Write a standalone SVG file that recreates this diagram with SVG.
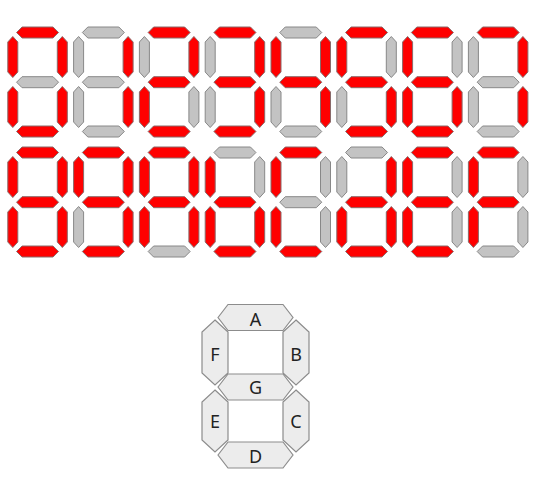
<svg xmlns="http://www.w3.org/2000/svg" xmlns:xlink="http://www.w3.org/1999/xlink" width="550" height="487" viewBox="0 0 550 487">
<style>
.on{fill:#ff0000;stroke:#8a6a6a;stroke-width:1}
.off{fill:#c3c3c3;stroke:#888888;stroke-width:1}
.big{fill:#ececec;stroke:#8c8c8c;stroke-width:1.2}
.lbl{font-family:"Noto Sans","DejaVu Sans",sans-serif;font-size:18px;fill:#222;text-anchor:middle;dominant-baseline:central}
</style>
<defs>
<polygon id="h" points="-21,0 -15.5,-5.5 15.5,-5.5 21,0 15.5,5.5 -15.5,5.5"/>
<polygon id="v" points="0,-20.5 5,-15 5,15 0,20.5 -5,15 -5,-15"/>
</defs>
<rect width="550" height="487" fill="#ffffff"/>
<g id="d0" transform="translate(7.3,27)"><use href="#h" x="30.25" y="5.5" class="on"/><use href="#v" x="55" y="30" class="on"/><use href="#v" x="55" y="80" class="on"/><use href="#h" x="30.25" y="104.5" class="on"/><use href="#v" x="5.5" y="80" class="on"/><use href="#v" x="5.5" y="30" class="on"/><use href="#h" x="30.25" y="55.2" class="off"/></g>
<g id="d1" transform="translate(73.1,27)"><use href="#h" x="30.25" y="5.5" class="off"/><use href="#v" x="55" y="30" class="on"/><use href="#v" x="55" y="80" class="on"/><use href="#h" x="30.25" y="104.5" class="off"/><use href="#v" x="5.5" y="80" class="off"/><use href="#v" x="5.5" y="30" class="off"/><use href="#h" x="30.25" y="55.2" class="off"/></g>
<g id="d2" transform="translate(138.9,27)"><use href="#h" x="30.25" y="5.5" class="on"/><use href="#v" x="55" y="30" class="on"/><use href="#v" x="55" y="80" class="off"/><use href="#h" x="30.25" y="104.5" class="on"/><use href="#v" x="5.5" y="80" class="on"/><use href="#v" x="5.5" y="30" class="off"/><use href="#h" x="30.25" y="55.2" class="on"/></g>
<g id="d3" transform="translate(204.7,27)"><use href="#h" x="30.25" y="5.5" class="on"/><use href="#v" x="55" y="30" class="on"/><use href="#v" x="55" y="80" class="on"/><use href="#h" x="30.25" y="104.5" class="on"/><use href="#v" x="5.5" y="80" class="off"/><use href="#v" x="5.5" y="30" class="off"/><use href="#h" x="30.25" y="55.2" class="on"/></g>
<g id="d4" transform="translate(270.5,27)"><use href="#h" x="30.25" y="5.5" class="off"/><use href="#v" x="55" y="30" class="on"/><use href="#v" x="55" y="80" class="on"/><use href="#h" x="30.25" y="104.5" class="off"/><use href="#v" x="5.5" y="80" class="off"/><use href="#v" x="5.5" y="30" class="on"/><use href="#h" x="30.25" y="55.2" class="on"/></g>
<g id="d5" transform="translate(336.3,27)"><use href="#h" x="30.25" y="5.5" class="on"/><use href="#v" x="55" y="30" class="off"/><use href="#v" x="55" y="80" class="on"/><use href="#h" x="30.25" y="104.5" class="on"/><use href="#v" x="5.5" y="80" class="off"/><use href="#v" x="5.5" y="30" class="on"/><use href="#h" x="30.25" y="55.2" class="on"/></g>
<g id="d6" transform="translate(402.1,27)"><use href="#h" x="30.25" y="5.5" class="on"/><use href="#v" x="55" y="30" class="off"/><use href="#v" x="55" y="80" class="on"/><use href="#h" x="30.25" y="104.5" class="on"/><use href="#v" x="5.5" y="80" class="on"/><use href="#v" x="5.5" y="30" class="on"/><use href="#h" x="30.25" y="55.2" class="on"/></g>
<g id="d7" transform="translate(467.9,27)"><use href="#h" x="30.25" y="5.5" class="on"/><use href="#v" x="55" y="30" class="on"/><use href="#v" x="55" y="80" class="on"/><use href="#h" x="30.25" y="104.5" class="off"/><use href="#v" x="5.5" y="80" class="off"/><use href="#v" x="5.5" y="30" class="off"/><use href="#h" x="30.25" y="55.2" class="off"/></g>
<g id="d8" transform="translate(7.3,147)"><use href="#h" x="30.25" y="5.5" class="on"/><use href="#v" x="55" y="30" class="on"/><use href="#v" x="55" y="80" class="on"/><use href="#h" x="30.25" y="104.5" class="on"/><use href="#v" x="5.5" y="80" class="on"/><use href="#v" x="5.5" y="30" class="on"/><use href="#h" x="30.25" y="55.2" class="on"/></g>
<g id="d9" transform="translate(73.1,147)"><use href="#h" x="30.25" y="5.5" class="on"/><use href="#v" x="55" y="30" class="on"/><use href="#v" x="55" y="80" class="on"/><use href="#h" x="30.25" y="104.5" class="on"/><use href="#v" x="5.5" y="80" class="off"/><use href="#v" x="5.5" y="30" class="on"/><use href="#h" x="30.25" y="55.2" class="on"/></g>
<g id="dA" transform="translate(138.9,147)"><use href="#h" x="30.25" y="5.5" class="on"/><use href="#v" x="55" y="30" class="on"/><use href="#v" x="55" y="80" class="on"/><use href="#h" x="30.25" y="104.5" class="off"/><use href="#v" x="5.5" y="80" class="on"/><use href="#v" x="5.5" y="30" class="on"/><use href="#h" x="30.25" y="55.2" class="on"/></g>
<g id="dB" transform="translate(204.7,147)"><use href="#h" x="30.25" y="5.5" class="off"/><use href="#v" x="55" y="30" class="off"/><use href="#v" x="55" y="80" class="on"/><use href="#h" x="30.25" y="104.5" class="on"/><use href="#v" x="5.5" y="80" class="on"/><use href="#v" x="5.5" y="30" class="on"/><use href="#h" x="30.25" y="55.2" class="on"/></g>
<g id="dC" transform="translate(270.5,147)"><use href="#h" x="30.25" y="5.5" class="on"/><use href="#v" x="55" y="30" class="off"/><use href="#v" x="55" y="80" class="off"/><use href="#h" x="30.25" y="104.5" class="on"/><use href="#v" x="5.5" y="80" class="on"/><use href="#v" x="5.5" y="30" class="on"/><use href="#h" x="30.25" y="55.2" class="off"/></g>
<g id="dD" transform="translate(336.3,147)"><use href="#h" x="30.25" y="5.5" class="off"/><use href="#v" x="55" y="30" class="on"/><use href="#v" x="55" y="80" class="on"/><use href="#h" x="30.25" y="104.5" class="on"/><use href="#v" x="5.5" y="80" class="on"/><use href="#v" x="5.5" y="30" class="off"/><use href="#h" x="30.25" y="55.2" class="on"/></g>
<g id="dE" transform="translate(402.1,147)"><use href="#h" x="30.25" y="5.5" class="on"/><use href="#v" x="55" y="30" class="off"/><use href="#v" x="55" y="80" class="off"/><use href="#h" x="30.25" y="104.5" class="on"/><use href="#v" x="5.5" y="80" class="on"/><use href="#v" x="5.5" y="30" class="on"/><use href="#h" x="30.25" y="55.2" class="on"/></g>
<g id="dF" transform="translate(467.9,147)"><use href="#h" x="30.25" y="5.5" class="on"/><use href="#v" x="55" y="30" class="off"/><use href="#v" x="55" y="80" class="off"/><use href="#h" x="30.25" y="104.5" class="off"/><use href="#v" x="5.5" y="80" class="on"/><use href="#v" x="5.5" y="30" class="on"/><use href="#h" x="30.25" y="55.2" class="on"/></g>
<g id="legend">
<g id="segA"><polygon class="big" points="218,317.5 228,304.5 283,304.5 293,317.5 283,330.5 228,330.5"/><text class="lbl" x="255.5" y="318.5">A</text></g>
<g id="segB"><polygon class="big" points="296,320 309,332 309,373 296,385 283,373 283,332"/><text class="lbl" x="296" y="353.5">B</text></g>
<g id="segC"><polygon class="big" points="296,390 309,402 309,440 296,452 283,440 283,402"/><text class="lbl" x="296" y="420.5">C</text></g>
<g id="segD"><polygon class="big" points="218,455 228,442 283,442 293,455 283,468 228,468"/><text class="lbl" x="255.5" y="455.5">D</text></g>
<g id="segE"><polygon class="big" points="215,390 228,402 228,440 215,452 202,440 202,402"/><text class="lbl" x="215" y="421">E</text></g>
<g id="segF"><polygon class="big" points="215,320 228,332 228,373 215,385 202,373 202,332"/><text class="lbl" x="215" y="354">F</text></g>
<g id="segG"><polygon class="big" points="218,387 228,374 283,374 293,387 283,400 228,400"/><text class="lbl" x="255.5" y="386.5">G</text></g>
</g>
<g id="connectors"/>
</svg>
